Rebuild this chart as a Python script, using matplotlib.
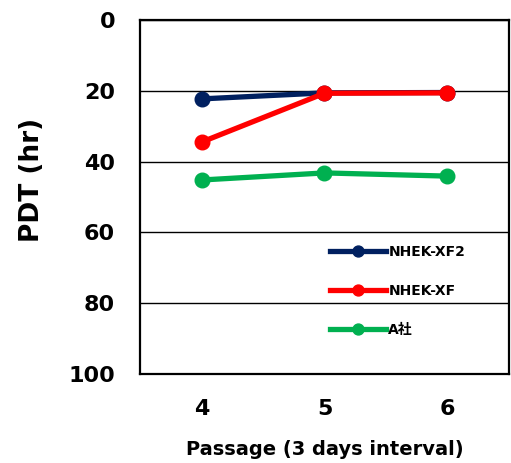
import matplotlib
matplotlib.use('Agg')
from matplotlib import pyplot as plt

plt.rcParams['font.family'] = ['DejaVu Sans', 'Noto Sans CJK JP']

passage = [4, 5, 6]
xf2 = [22.3, 20.6, 20.5]
xf = [34.5, 20.7, 20.6]
a_sha = [45.2, 43.2, 44.1]
y_ticks = [0, 20, 40, 60, 80, 100]

fig = plt.figure(figsize=(5.11, 4.63), dpi=100)
ax = fig.add_axes([0.274, 0.192, 0.722, 0.765])

ax.plot(passage, xf2, color='#002060', lw=3.8, marker='o', ms=10.5, label='NHEK-XF2')
ax.plot(passage, xf, color='#ff0000', lw=3.8, marker='o', ms=10.5, label='NHEK-XF')
ax.plot(passage, a_sha, color='#00b050', lw=3.8, marker='o', ms=10.5, label='A社')

ax.set_xlim(3.5, 6.5)
ax.set_ylim(100, 0)
ax.set_xticks(passage)
ax.set_yticks(y_ticks)
ax.yaxis.grid(True, color='black', lw=1)
ax.tick_params(length=0, labelsize=16)
ax.tick_params(axis='y', pad=18)
ax.tick_params(axis='x', pad=18)
for lab in ax.get_xticklabels() + ax.get_yticklabels():
    lab.set_fontweight('bold')
for s in ax.spines.values():
    s.set_linewidth(1.6)

ax.set_ylabel('PDT (hr)', fontsize=19, fontweight='bold', labelpad=17)
ax.yaxis.label.set_y(0.548)
ax.set_xlabel('Passage (3 days interval)', fontsize=14, fontweight='bold', labelpad=15)

leg = ax.legend(loc='center left', bbox_to_anchor=(0.515, 0.234), frameon=False,
                handlelength=4, labelspacing=1.8, handletextpad=0.2,
                borderpad=0, borderaxespad=0, markerscale=0.75,
                prop={'weight': 'bold', 'size': 10})

fig.savefig('out.png', dpi=100)
